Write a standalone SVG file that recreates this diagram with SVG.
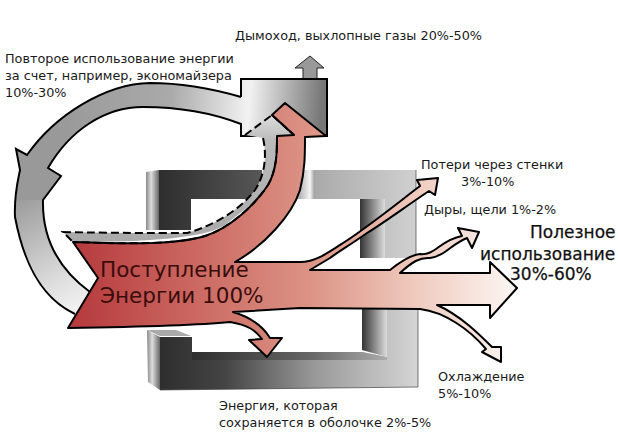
<svg xmlns="http://www.w3.org/2000/svg" width="618" height="446" viewBox="0 0 618 446">
<style>
text{font-family:"DejaVu Sans",sans-serif;font-size:12.8px;fill:#1a1a1a}
.big{font-size:17px;fill:#111;stroke:#111;stroke-width:.25}
.main{font-size:21.5px;fill:#3a0d0d}
.ol{stroke:#000;stroke-width:2;stroke-linejoin:round}
.dash{fill:none;stroke:#000;stroke-width:2;stroke-dasharray:8 4}
</style>
<defs>
<linearGradient id="red" gradientUnits="userSpaceOnUse" x1="70" y1="0" x2="510" y2="0">
<stop offset="0" stop-color="#b5393c"/><stop offset=".3" stop-color="#cc6b63"/><stop offset=".55" stop-color="#dc9486"/><stop offset=".78" stop-color="#efc9bd"/><stop offset="1" stop-color="#fbf4f0"/>
</linearGradient>
<linearGradient id="recirc" gradientUnits="userSpaceOnUse" x1="60" y1="110" x2="320" y2="130">
<stop offset="0" stop-color="#999"/><stop offset=".42" stop-color="#aaa"/><stop offset=".72" stop-color="#f2f2f2"/><stop offset="1" stop-color="#777"/>
</linearGradient>
<linearGradient id="recirc2" gradientUnits="userSpaceOnUse" x1="20" y1="195" x2="85" y2="310">
<stop offset="0" stop-color="#999"/><stop offset=".7" stop-color="#ddd"/><stop offset="1" stop-color="#f4f4f4"/>
</linearGradient>
<linearGradient id="headg" x1="0" y1="0" x2="0" y2="1">
<stop offset="0" stop-color="#ddd"/><stop offset=".2" stop-color="#bbb"/><stop offset="1" stop-color="#aaa"/>
</linearGradient>
<linearGradient id="dk" gradientUnits="userSpaceOnUse" x1="160" y1="0" x2="418" y2="0">
<stop offset="0" stop-color="#2e2e2e"/><stop offset=".25" stop-color="#444"/><stop offset=".6" stop-color="#999"/><stop offset="1" stop-color="#d5d5d5"/>
</linearGradient>
<linearGradient id="strip" gradientUnits="userSpaceOnUse" x1="192" y1="0" x2="387" y2="0">
<stop offset="0" stop-color="#2e2e2e"/><stop offset=".6" stop-color="#666"/><stop offset="1" stop-color="#aaa"/>
</linearGradient>
<linearGradient id="dk2" gradientUnits="userSpaceOnUse" x1="160" y1="0" x2="300" y2="0">
<stop offset="0" stop-color="#2e2e2e"/><stop offset="1" stop-color="#666"/>
</linearGradient>
<linearGradient id="side" x1="0" y1="0" x2="1" y2="0">
<stop offset="0" stop-color="#888"/><stop offset=".4" stop-color="#ddd"/><stop offset="1" stop-color="#666"/>
</linearGradient>
<linearGradient id="innr" x1="0" y1="0" x2="1" y2="0">
<stop offset="0" stop-color="#333"/><stop offset="1" stop-color="#ddd"/>
</linearGradient>
<linearGradient id="wall" x1="0" y1="0" x2="1" y2="0">
<stop offset="0" stop-color="#aaa"/><stop offset="1" stop-color="#d0d0d0"/>
</linearGradient>
<linearGradient id="glint" x1="0" y1="0" x2="1" y2="0">
<stop offset="0" stop-color="#999"/><stop offset=".75" stop-color="#f5f5f5"/><stop offset="1" stop-color="#999"/>
</linearGradient>
</defs>

<g id="furnace">
<path d="M146 172L159 170V230H146Z" fill="url(#side)"/>
<path d="M159 170H262V199H191V230H159Z" fill="url(#dk2)"/>
<rect x="295" y="170" width="20" height="29" fill="url(#glint)"/>
<path d="M315 170H416V258H385V199H315Z" fill="url(#wall)"/>
<rect x="360" y="199" width="25" height="59" fill="url(#innr)"/>
<path d="M387 309H418V387L160 390V337H192V352H362L387 357Z" fill="url(#dk)"/>
<path d="M192 352H362L387 357V360H192Z" fill="url(#strip)"/>
<path d="M362 309H387V357L362 350Z" fill="url(#innr)"/>
<path d="M147 330L160 337V390L148 382Z" fill="url(#side)"/>
<path d="M147 330L176 330L191 336H160Z" fill="#aaa"/>
<path d="M416 170V258M418 309V387L160 390" fill="none" stroke="#444" stroke-width=".7"/>
</g>

<g id="connectors">
<path id="chimney-arrow" d="M295 68L310 56L324 68H317V79H303V68Z" fill="#999" stroke="#222" stroke-width="1"/>
<g id="recirculation">
<path d="M241 79H327V136H241V124C215 114 180 107 143 107C105 107 70 130 48 168L61 176L43 200H16C17 188 18 180 20 170L16 149L27 155C55 115 105 84 150 83C180 83 210 88 241 97Z" fill="url(#recirc)"/>
<path d="M43 200C42 240 60 270 90 292L75 314C45 300 25 270 15 217L16 200Z" fill="url(#recirc2)"/>
<path d="M241 97V79H327V136H241V124C215 114 180 107 143 107C105 107 70 130 48 168L61 176L43 200C42 240 60 270 90 292M75 314C45 300 25 270 15 217C14 195 18 180 20 170L16 149L27 155C55 115 105 84 150 83C180 83 210 88 241 97" fill="none" stroke="#000" stroke-width="2"/>
</g>
<path id="recovered-path" d="M245 135L272 115L294 135H277L273 177L253 203L225 225C205 238 150 242 73 242L63 232C110 233 150 233 187 233C215 225 240 210 255 190C265 175 267 155 263 138Z" fill="url(#headg)"/>
<path d="M245 135L272 115L294 135M263 138C267 155 265 175 255 190C240 210 215 225 187 233C150 233 110 233 63 232L73 242" class="dash"/>
<path id="input-arrow" d="M68 328L98 278L73 242C130 244 175 245 205 236C230 228 255 205 268 185C277 170 277 150 277 136L294 135L272 115L285 103L326 136L305 137C305 155 305 170 300 190C292 215 265 245 235 262H300C315 262 328 253 343 243C368 227 395 205 420 186L417 180L438 178L435 195L429 191C405 207 385 222 367 233C350 245 338 252 330 258L310 270H390C400 262 410 255 420 254C435 256 440 240 462 236L458 228L479 232L472 248L467 238C450 245 445 256 430 258C420 257 412 262 400 273H490V262L517 288L490 318V305H437C460 315 480 335 492 347H501V362L482 352L486 349C470 330 445 312 420 309L300 308L233 312C250 317 262 325 270 338L282 338L267 357L249 340L262 339C255 330 248 325 230 322C200 325 130 327 68 328Z" fill="url(#red)" class="ol"/>
<path d="M277 136C277 150 277 170 268 185C255 205 230 228 205 236C175 245 130 244 73 242" class="dash" stroke-dashoffset="3"/>
<path d="M272 115L294 135" class="dash"/>
</g>

<g id="labels">
<text x="235" y="40">Дымоход, выхлопные газы 20%-50%</text>
<text x="5" y="63">Повторое использование энергии</text>
<text x="5" y="80">за счет, например, экономайзера</text>
<text x="5" y="97">10%-30%</text>
<text x="421" y="169">Потери через стенки</text>
<text x="461" y="186">3%-10%</text>
<text x="424" y="214">Дыры, щели 1%-2%</text>
<text x="530" y="238" class="big">Полезное</text>
<text x="480" y="260" class="big">использование</text>
<text x="510" y="280" class="big">30%-60%</text>
<text x="100" y="277" class="main">Поступление</text>
<text x="100" y="303" class="main">Энергии 100%</text>
<text x="438" y="381">Охлаждение</text>
<text x="438" y="398">5%-10%</text>
<text x="219" y="410">Энергия, которая</text>
<text x="219" y="427">сохраняется в оболочке 2%-5%</text>
</g>
</svg>
